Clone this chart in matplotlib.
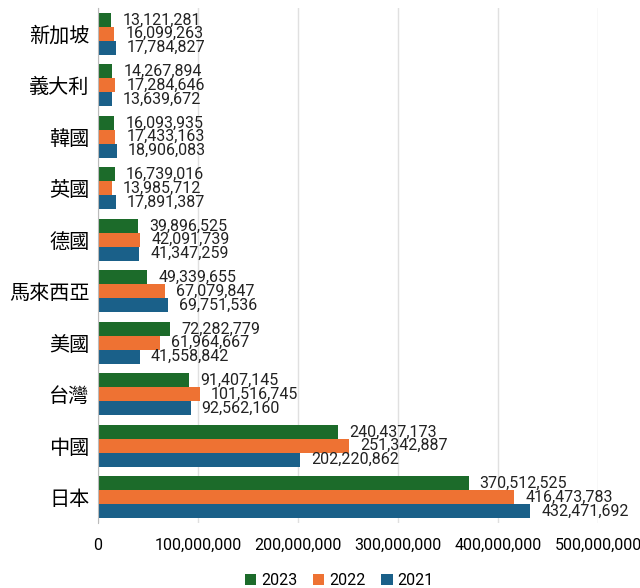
import matplotlib
matplotlib.use("Agg")
import matplotlib.pyplot as plt
import numpy as np

plt.rcParams['font.family'] = ['Roboto', 'Noto Sans CJK TC', 'DejaVu Sans']

categories = ["新加坡", "義大利", "韓國", "英國", "德國", "馬來西亞", "美國", "台灣", "中國", "日本"]
v2023 = [13121281, 14267894, 16093935, 16739016, 39896525, 49339655, 72282779, 91407145, 240437173, 370512525]
v2022 = [16099263, 17284646, 17433163, 13985712, 42091739, 67079847, 61964667, 101516745, 251342887, 416473783]
v2021 = [17784827, 13639672, 18906083, 17891387, 41347259, 69751536, 41558842, 92562160, 202220862, 432471692]
series = [("2023", v2023, "#1c6b2a"), ("2022", v2022, "#ee7233"), ("2021", v2021, "#1a6089")]
xticks = [0, 100000000, 200000000, 300000000, 400000000, 500000000]

fig = plt.figure(figsize=(6.4, 5.88), dpi=100)
ax = fig.add_axes([98/640, 1 - 523/588, 500/640, (523 - 8)/588])

y = np.arange(len(categories))
bh = 0.27
for i, (name, vals, col) in enumerate(series):
    pos = y + (i - 1) * bh
    bars = ax.barh(pos, vals, height=bh, color=col, label=name, zorder=3)
    for b, v in zip(bars, vals):
        ax.annotate(f"{v:,}", (v, b.get_y() + bh / 2), xytext=(8, 0),
                    textcoords="offset points", va="center", ha="left",
                    fontsize=11.5, color="#222222", zorder=4)

ax.set_ylim(len(categories) - 0.5, -0.5)
ax.set_xlim(0, 500000000)
ax.set_yticks(y)
ax.set_yticklabels(categories, fontsize=14.5, family=['Noto Sans CJK TC'])
ax.set_xticks(xticks)
ax.set_xticklabels([f"{t:,}" for t in xticks], fontsize=11.5)
ax.tick_params(axis='both', length=0)
ax.tick_params(axis='x', pad=11)
ax.tick_params(axis='y', pad=6)
ax.grid(axis='x', color="#e0e0e0", linewidth=1, zorder=0)
for s in ["top", "right", "bottom"]:
    ax.spines[s].set_visible(False)
ax.spines["left"].set_color("#bbbbbb")
ax.spines["left"].set_zorder(5)

fig.legend(loc="lower center", bbox_to_anchor=(0.53, -0.024), ncol=3, frameon=False,
           fontsize=11.5, handlelength=0.7, handleheight=0.7, handletextpad=0.3,
           columnspacing=1.0)

fig.savefig("out.png", dpi=100)
